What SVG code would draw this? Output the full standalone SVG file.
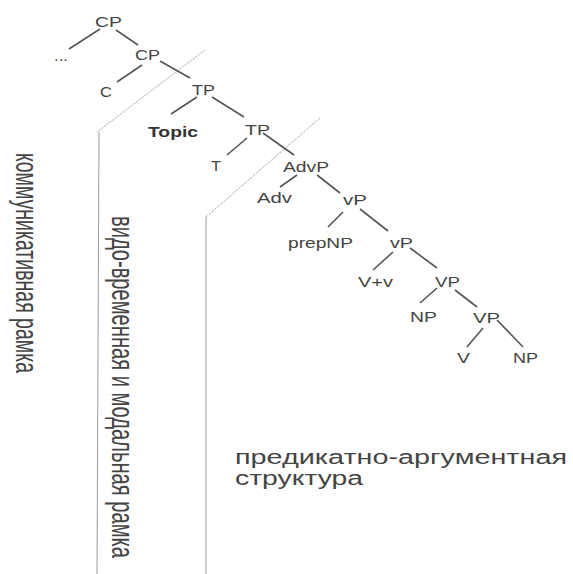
<svg xmlns="http://www.w3.org/2000/svg" width="573" height="574" viewBox="0 0 573 574">
<style>
.lbl{font-family:"Liberation Sans",Arial,sans-serif;font-size:15px;fill:#444}
.b{font-weight:bold;fill:#333}
.edge{stroke:#555;stroke-width:1.6;fill:none}
.dot{stroke:#888;stroke-width:1;stroke-dasharray:1 1;fill:none}
.vline{stroke:#999;stroke-width:1;fill:none}
.rot{font-family:"Liberation Sans",Arial,sans-serif;font-size:20px;fill:#444}
.cap{font-family:"Liberation Sans",Arial,sans-serif;font-size:20px;fill:#444}
</style>
<rect width="573" height="574" fill="#fff"/>
<g id="frames">
<path class="dot" d="M205,50 L97,132"/>
<path class="vline" d="M99,132 L97,574"/>
<path class="dot" d="M320,118 L206,217"/>
<path class="vline" d="M206,217 L206,574"/>
</g>
<g id="connectors">
<path class="edge" d="M100,29 L69,49"/>
<path class="edge" d="M116,30 L138,45"/>
<path class="edge" d="M142,65 L117,82"/>
<path class="edge" d="M160,61 L190,78"/>
<path class="edge" d="M197,97 L171,114"/>
<path class="edge" d="M212,97 L244,117"/>
<path class="edge" d="M247,138 L227,155"/>
<path class="edge" d="M263,133 L294,155"/>
<path class="edge" d="M297,175 L280,187"/>
<path class="edge" d="M317,175 L340,193"/>
<path class="edge" d="M343,212 L328,227"/>
<path class="edge" d="M360,209 L388,231"/>
<path class="edge" d="M393,252 L373,270"/>
<path class="edge" d="M410,248 L437,268"/>
<path class="edge" d="M437,288 L420,303"/>
<path class="edge" d="M455,290 L477,307"/>
<path class="edge" d="M483,328 L467,347"/>
<path class="edge" d="M497,320 L523,347"/>
</g>
<g id="n-cp1"><text class="lbl" x="95" y="27" textLength="27" lengthAdjust="spacingAndGlyphs">CP</text></g>
<g id="n-dots"><text class="lbl" x="54" y="61" textLength="14" lengthAdjust="spacingAndGlyphs">...</text></g>
<g id="n-cp2"><text class="lbl" x="135" y="60" textLength="25" lengthAdjust="spacingAndGlyphs">CP</text></g>
<g id="n-c"><text class="lbl" x="100" y="97" textLength="12" lengthAdjust="spacingAndGlyphs">C</text></g>
<g id="n-tp1"><text class="lbl" x="192" y="95" textLength="23" lengthAdjust="spacingAndGlyphs">TP</text></g>
<g id="n-topic"><text class="lbl b" x="148" y="137" textLength="50" lengthAdjust="spacingAndGlyphs">Topic</text></g>
<g id="n-tp2"><text class="lbl" x="245" y="135" textLength="25" lengthAdjust="spacingAndGlyphs">TP</text></g>
<g id="n-t"><text class="lbl" x="211" y="171" textLength="10" lengthAdjust="spacingAndGlyphs">T</text></g>
<g id="n-advp"><text class="lbl" x="283" y="172" textLength="46" lengthAdjust="spacingAndGlyphs">AdvP</text></g>
<g id="n-adv"><text class="lbl" x="257" y="203" textLength="35" lengthAdjust="spacingAndGlyphs">Adv</text></g>
<g id="n-vp1"><text class="lbl" x="343" y="205" textLength="24" lengthAdjust="spacingAndGlyphs">vP</text></g>
<g id="n-prepnp"><text class="lbl" x="288" y="248" textLength="65" lengthAdjust="spacingAndGlyphs">prepNP</text></g>
<g id="n-vp2"><text class="lbl" x="390" y="248" textLength="23" lengthAdjust="spacingAndGlyphs">vP</text></g>
<g id="n-vv"><text class="lbl" x="358" y="287" textLength="35" lengthAdjust="spacingAndGlyphs">V+v</text></g>
<g id="n-VP1"><text class="lbl" x="435" y="287" textLength="25" lengthAdjust="spacingAndGlyphs">VP</text></g>
<g id="n-np1"><text class="lbl" x="410" y="322" textLength="27" lengthAdjust="spacingAndGlyphs">NP</text></g>
<g id="n-VP2"><text class="lbl" x="473" y="323" textLength="27" lengthAdjust="spacingAndGlyphs">VP</text></g>
<g id="n-v"><text class="lbl" x="457" y="363" textLength="13" lengthAdjust="spacingAndGlyphs">V</text></g>
<g id="n-np2"><text class="lbl" x="513" y="363" textLength="25" lengthAdjust="spacingAndGlyphs">NP</text></g>
<g id="label-comm"><text class="rot" transform="translate(16,153) rotate(90) scale(1,1.55)" textLength="220" lengthAdjust="spacingAndGlyphs">коммуникативная рамка</text></g>
<g id="label-aspect"><text class="rot" transform="translate(112,216) rotate(90) scale(1,1.55)" textLength="342" lengthAdjust="spacingAndGlyphs">видо-временная и модальная рамка</text></g>
<g id="label-pred">
<text class="cap" x="235" y="464" textLength="332" lengthAdjust="spacingAndGlyphs">предикатно-аргументная</text>
<text class="cap" x="235" y="485" textLength="128" lengthAdjust="spacingAndGlyphs">структура</text>
</g>
</svg>
